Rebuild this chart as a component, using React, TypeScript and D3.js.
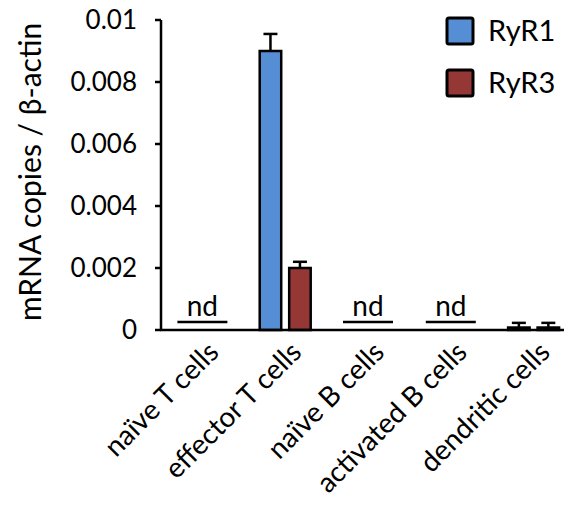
import React from 'react';
import * as d3 from 'd3';

const categories = ['naïve T cells', 'effector T cells', 'naïve B cells', 'activated B cells', 'dendritic cells'];
const seriesNames = ['RyR1', 'RyR3'];
const ryr1 = [0, 0.009, 0, 0, 0.00008];
const ryr3 = [0, 0.002, 0, 0, 0.00008];
const ryr1Err = [0, 0.00055, 0, 0, 0.00015];
const ryr3Err = [0, 0.0002, 0, 0, 0.00015];
const notDetected = [true, false, true, true, false];
const yTicks = [0, 0.002, 0.004, 0.006, 0.008, 0.01];

const colors = ['#558ed5', '#953735'];
const font = 'Lato, "Noto Sans", sans-serif';

function App() {
  const width = 564, height = 505;
  const left = 161, top = 20, bottom = 330;

  const x = d3.scaleBand<string>().domain(categories).range([left, left + 5 * 82.8]).paddingInner(0).paddingOuter(0);
  const xs = d3.scaleBand<string>().domain(seriesNames).range([0, 51]).paddingInner(0.27);
  const y = d3.scaleLinear().domain([0, 0.01]).range([bottom, top]);

  const values = [ryr1, ryr3];
  const errs = [ryr1Err, ryr3Err];

  return (
    <svg width={width} height={height} style={{ display: 'block', position: 'absolute', left: 0, top: 0 }} fontFamily={font}>
      {/* bars with error bars */}
      {categories.map((c, i) => {
        const cx = x(c)! + x.bandwidth() / 2;
        if (notDetected[i]) {
          return (
            <g key={c}>
              <line x1={cx - 25} x2={cx + 25} y1={322} y2={322} stroke="#000" strokeWidth={2.5} />
              <text x={cx} y={316} textAnchor="middle" fontSize={28}>nd</text>
            </g>
          );
        }
        return (
          <g key={c}>
            {seriesNames.map((s, k) => {
              const bx = cx - 25.5 + xs(s)!;
              const v = values[k][i];
              const e = errs[k][i];
              const bw = xs.bandwidth();
              return (
                <g key={s}>
                  <line x1={bx + bw / 2} x2={bx + bw / 2} y1={y(v)} y2={y(v + e)} stroke="#000" strokeWidth={2.5} />
                  <line x1={bx + bw / 2 - 7} x2={bx + bw / 2 + 7} y1={y(v + e)} y2={y(v + e)} stroke="#000" strokeWidth={2.5} />
                  <rect x={bx} y={y(v)} width={bw} height={bottom - y(v)} fill={colors[k]} stroke="#000" strokeWidth={2.5} />
                </g>
              );
            })}
          </g>
        );
      })}

      {/* y axis */}
      <line x1={left} x2={left} y1={top} y2={bottom} stroke="#000" strokeWidth={2.5} />
      {yTicks.map(t => (
        <g key={t}>
          <line x1={left - 6} x2={left} y1={y(t)} y2={y(t)} stroke="#000" strokeWidth={2.5} />
          <text x={left - 24} y={y(t)} dy="0.36em" textAnchor="end" fontSize={26}>
            {t === 0 ? '0' : String(t)}
          </text>
        </g>
      ))}
      <text transform={`translate(30,${(top + bottom) / 2 - 3}) rotate(-90)`} textAnchor="middle" dy="0.36em" fontSize={30}>
        mRNA copies / β-actin
      </text>

      {/* x axis */}
      <line x1={left - 1} x2={width} y1={bottom} y2={bottom} stroke="#000" strokeWidth={2.5} />
      {categories.map(c => {
        const cx = x(c)! + x.bandwidth() / 2 + 4;
        return (
          <text key={c} transform={`translate(${cx},${bottom + 10}) rotate(-45)`} textAnchor="end" dy="0.7em" fontSize={28}>
            {c}
          </text>
        );
      })}

      {/* legend */}
      {seriesNames.map((s, k) => (
        <g key={s} transform={`translate(447,${18 + k * 52})`}>
          <rect x={0} y={0} width={26} height={26} rx={2} fill={colors[k]} stroke="#000" strokeWidth={3} />
          <text x={41} y={13} dy="0.36em" fontSize={29}>{s}</text>
        </g>
      ))}
    </svg>
  );
}

export default App;
